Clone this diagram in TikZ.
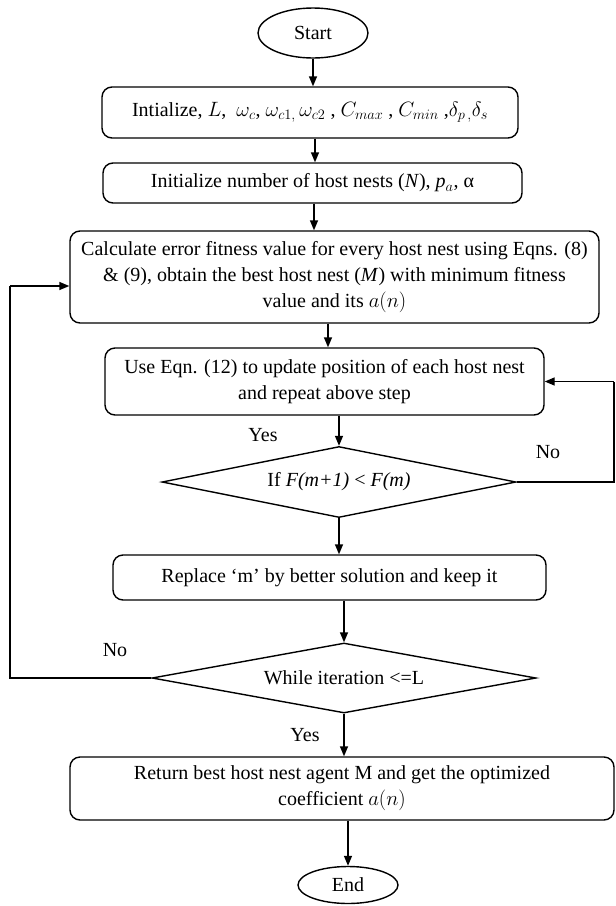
\documentclass[tikz,border=0pt]{standalone}
\usepackage{fontspec}
\setmainfont{Liberation Serif}
\usetikzlibrary{shapes.geometric,arrows.meta}
\begin{document}
\begin{tikzpicture}[x=1pt,y=-1pt,
  every node/.style={font=\fontsize{20}{26}\selectfont},
  box/.style={draw,line width=1.4pt,rounded corners=10pt,align=center,inner sep=0pt},
  dia/.style={draw,line width=1.4pt,diamond,aspect=5,inner sep=0pt},
  term/.style={draw,line width=1.4pt,ellipse,inner sep=0pt},
  arr/.style={line width=1.4pt,-{Triangle[length=10pt,width=8pt]}},
  ln/.style={line width=1.4pt},
  lbl/.style={inner sep=0pt}]
\useasboundingbox (0,0) rectangle (616,906);
\node[term,minimum width=110pt,minimum height=50pt] (start) at (313,33) {Start};
\node[box,minimum width=416pt,minimum height=51pt] (b1) at (310,112.5)
  {Intialize, $L$,\ \ $\omega_c$, $\omega_{c1,}\,\omega_{c2}$ , $C_{max}$ , $C_{min}$ ,$\delta_{p\,,}\delta_s$};
\node[box,minimum width=419pt,minimum height=40pt] (b2) at (312.5,183)
  {Initialize number of host nests (\textit{N}), \textit{p}$_{a}$, α};
\node[box,minimum width=529pt,minimum height=92pt] (b3) at (334.5,277)
  {Calculate error fitness value for every host nest using Eqns. (8)\\
   \& (9), obtain the best host nest (\textit{M}) with minimum fitness\\
   value and its $a(n)$};
\node[box,minimum width=439pt,minimum height=67pt] (b4) at (324.5,381.5)
  {Use Eqn. (12) to update position of each host nest\\ and repeat above step};
\node[dia,minimum width=354pt,minimum height=71pt] (d1) at (339,482)
  {If \textit{F(m+1)} < \textit{F(m)}};
\node[box,minimum width=433pt,minimum height=45pt] (b5) at (329.5,577.5)
  {Replace ‘m’ by better solution and keep it};
\node[dia,minimum width=384pt,minimum height=70pt] (d2) at (344,678)
  {While iteration <=L};
\node[box,minimum width=544pt,minimum height=63pt] (b6) at (342,788.5)
  {Return best host nest agent M and get the optimized\\ coefficient $a(n)$};
\node[term,minimum width=100pt,minimum height=37pt] (end) at (348,885) {End};

\node[lbl] (yes1) at (263,435) {Yes};
\node[lbl] (no1) at (548,452) {No};
\node[lbl] (no2) at (115,650) {No};
\node[lbl] (yes2) at (305,735) {Yes};

\draw[arr] (start.south) -- (start.south |- b1.north);
\coordinate (a2) at (315,0);
\draw[arr] (a2 |- b1.south) -- (a2 |- b2.north);
\coordinate (a3) at (314,0);
\draw[arr] (a3 |- b2.south) -- (a3 |- b3.north);
\coordinate (a4) at (328,0);
\draw[arr] (a4 |- b3.south) -- (a4 |- b4.north);
\draw[arr] (d1.north |- b4.south) -- (d1.north);
\draw[arr] (d1.south) -- (d1.south |- b5.north);
\draw[arr] (d2.north |- b5.south) -- (d2.north);
\draw[arr] (d2.south) -- (d2.south |- b6.north);
\draw[arr] (end.north |- b6.south) -- (end.north);

\coordinate (lx) at (10,0);
\coordinate (in3) at (0,286);
\draw[ln] (d2.west) -- (lx |- d2.west) -- (lx |- in3);
\draw[arr] (lx |- in3) -- (b3.west |- in3);
\coordinate (rx) at (614,0);
\draw[ln] (d1.east) -- (rx |- d1.east) -- (rx |- b4.east);
\draw[arr] (rx |- b4.east) -- (b4.east);
\end{tikzpicture}
\end{document}
